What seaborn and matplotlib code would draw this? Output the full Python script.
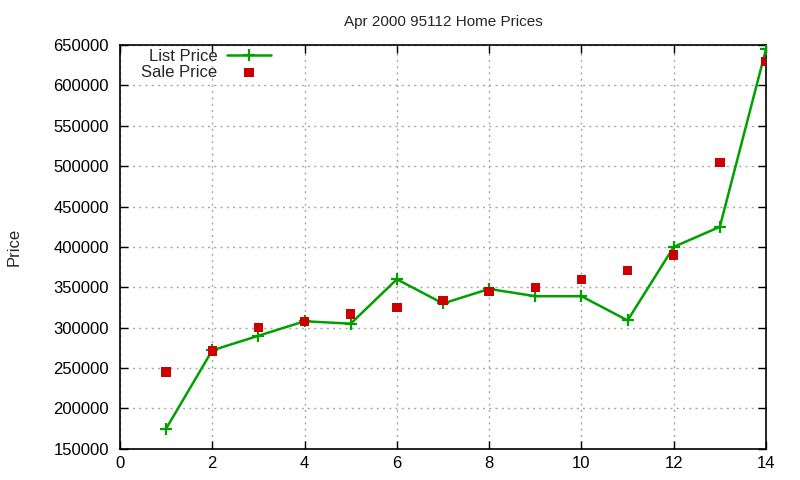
import matplotlib
matplotlib.use("Agg")
import matplotlib.pyplot as plt
import seaborn as sns
import pandas as pd

# values
months = [1, 2, 3, 4, 5, 6, 7, 8, 9, 10, 11, 12, 13, 14]
list_price = [175000, 272000, 290000, 308000, 305000, 360000, 330000,
              348000, 339000, 339000, 309000, 400000, 425000, 645000]
sale_price = [245000, 271000, 300000, 308000, 317000, 325000, 334000,
              345000, 350000, 360000, 371000, 390000, 505000, 630000]

df = pd.DataFrame({"x": months, "list": list_price, "sale": sale_price})

sns.set_style("ticks")
plt.rcParams["font.family"] = ["Liberation Sans", "DejaVu Sans"]

fig = plt.figure(figsize=(8, 4.8), dpi=100)
ax = fig.add_axes([0.15, 0.065, 0.8075, 0.841])

sns.lineplot(data=df, x="x", y="list", ax=ax, color="#00a000", linewidth=1.8,
             marker="+", markersize=8, markeredgewidth=1.6,
             markeredgecolor="#00a000", label="List Price", zorder=3)
sns.scatterplot(data=df, x="x", y="sale", ax=ax, color="#cc0000", marker="s",
                s=45, edgecolor="none", label="Sale Price", zorder=4)

ax.set_xlim(0, 14)
ax.set_ylim(150000, 650000)
ax.set_xticks(range(0, 15, 2))
ax.set_yticks(range(150000, 650001, 50000))
ax.set_xlabel("")
ax.set_ylabel("Price", fontsize=12)
ax.yaxis.set_label_coords(-0.153, 0.5)
ax.set_title("Apr 2000 95112 Home Prices", fontsize=11, pad=14)

ax.grid(True, color="#a8a8a8", linestyle=(0, (1.5, 3)), linewidth=1)
ax.tick_params(direction="in", length=6, top=True, right=True,
               labelsize=12, width=1, colors="black")
ax.tick_params(axis="x", pad=5)
ax.tick_params(axis="y", pad=8)
for s in ax.spines.values():
    s.set_linewidth(1.2)
    s.set_color("black")

ax.legend(loc="upper left", bbox_to_anchor=(0.015, 1.02), frameon=False,
          markerfirst=False, fontsize=12, handlelength=2.6,
          borderaxespad=0.3, labelspacing=0.05, handletextpad=0.6)

fig.savefig("out.png", dpi=100)
